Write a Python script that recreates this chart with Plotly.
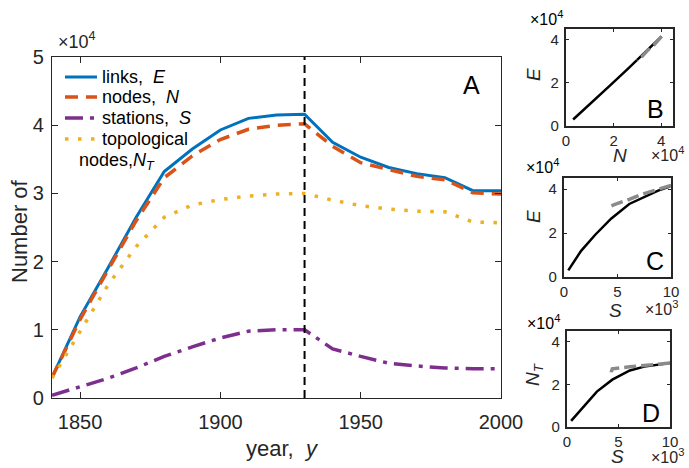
import plotly.graph_objects as go

# ---------------- data ----------------
years = [1840, 1850, 1860, 1870, 1880, 1890, 1900, 1910, 1920, 1930,
         1940, 1950, 1960, 1970, 1980, 1990, 2000]
links_E = [3000, 11900, 19100, 26500, 33200, 36500, 39300, 41000, 41500, 41600,
           37500, 35300, 33800, 32900, 32300, 30400, 30400]
nodes_N = [3000, 11500, 18800, 26000, 32300, 35500, 37900, 39400, 40000, 40200,
           36900, 34500, 33500, 32500, 32000, 30100, 29900]
stations_S = [400, 1600, 2900, 4400, 6100, 7500, 8800, 9800, 10000, 10000,
              7200, 6100, 5100, 4700, 4400, 4300, 4300]
topo_NT = [2900, 9700, 16600, 22200, 26500, 28300, 29100, 29600, 29900, 30000,
           29000, 28200, 27700, 27400, 27300, 25800, 25700]
peak_year = 1930

series_names = ["links,  <i>E</i>", "nodes,  <i>N</i>", "stations,  <i>S</i>", "topological"]
nt_name_line2 = "nodes,<i>N<sub>T</sub></i>"

main_yticks = [0, 10000, 20000, 30000, 40000, 50000]
main_yticktext = ["0", "1", "2", "3", "4", "5"]
main_xticks = [1850, 1900, 1950, 2000]
small_e4_ticks = [0, 20000, 40000]
small_e4_text = ["0", "2", "4"]
small_e3_ticks = [0, 5000, 10000]
small_e3_text = ["0", "5", "10"]

# ---------------- style ----------------
FONT = "Liberation Sans, Arial, Helvetica, sans-serif"
TXT = "#262626"
C_E, C_N, C_S, C_NT = "#0072BD", "#D95319", "#7E2F8E", "#EDB120"
LINE_STYLES = [
    dict(color=C_E, width=3),
    dict(color=C_N, width=3.5, dash="13px,8px"),
    dict(color=C_S, width=3.5, dash="18px,7px,4px,7px"),
    dict(color=C_NT, width=3.5, dash="3.5px,9.5px"),
]
W, H = 689, 468

def px(x):
    return x / W

def py(y):
    return 1 - y / H

k = years.index(peak_year)
grow = slice(0, k + 1)
decl = slice(k, len(years))

fig = go.Figure()

# main panel
for vals, nm, st in zip([links_E, nodes_N, stations_S, topo_NT],
                        series_names[:3] + [series_names[3] + " " + nt_name_line2],
                        LINE_STYLES):
    fig.add_trace(go.Scatter(x=years, y=vals, mode="lines", name=nm, showlegend=False,
                             line=st, xaxis="x", yaxis="y"))

# small panels: growth (black) and decline (gray dashed)
panels = [("x2", "y2", nodes_N, links_E),
          ("x3", "y3", stations_S, links_E),
          ("x4", "y4", stations_S, topo_NT)]
for xa, ya, xs, ys in panels:
    fig.add_trace(go.Scatter(x=xs[grow], y=ys[grow], mode="lines", showlegend=False,
                             line=dict(color="black", width=2.5), xaxis=xa, yaxis=ya))
    fig.add_trace(go.Scatter(x=xs[decl], y=ys[decl], mode="lines", showlegend=False,
                             line=dict(color="#8a8a8a", width=3.5, dash="12px,5px"),
                             xaxis=xa, yaxis=ya))

# vertical dashed line at the peak year
fig.add_shape(type="line", xref="x", yref="y domain", x0=peak_year, x1=peak_year,
              y0=0, y1=1, line=dict(color="black", width=2, dash="8px,5px"))

axis_common = dict(showline=True, linecolor=TXT, mirror="allticks", ticks="inside",
                   showgrid=False, zeroline=False, tickcolor=TXT)

def small_axis(dom, rng, tv, tt, anchor, standoff):
    return dict(domain=dom, range=rng, tickvals=tv, ticktext=tt, linewidth=2.2, ticklen=3,
                tickfont=dict(size=15), anchor=anchor, ticklabelstandoff=standoff,
                **axis_common)

fig.update_layout(
    width=W, height=H, margin=dict(l=0, r=0, t=0, b=0, autoexpand=False),
    paper_bgcolor="white", plot_bgcolor="white", showlegend=False,
    font=dict(family=FONT, color=TXT),
    xaxis=dict(domain=[px(52), px(501)], range=[1840, 2000], tickvals=main_xticks,
               linewidth=1.3, ticklen=6, tickfont=dict(size=20), anchor="y",
               ticklabelstandoff=6, **axis_common),
    yaxis=dict(domain=[py(398), py(57)], range=[0, 50000], tickvals=main_yticks,
               ticktext=main_yticktext, linewidth=1.3, ticklen=6, tickfont=dict(size=20),
               anchor="x", ticklabelstandoff=3, **axis_common),
    xaxis2=small_axis([px(566), px(673)], [0, 45000], small_e4_ticks, small_e4_text, "y2", 0),
    yaxis2=small_axis([py(126), py(29)], [0, 45000], small_e4_ticks, small_e4_text, "x2", 2),
    xaxis3=small_axis([px(564), px(671)], [0, 10000], small_e3_ticks, small_e3_text, "y3", 0),
    yaxis3=small_axis([py(277), py(178)], [0, 45000], small_e4_ticks, small_e4_text, "x3", 2),
    xaxis4=small_axis([px(567), px(670)], [0, 10000], small_e3_ticks, small_e3_text, "y4", 0),
    yaxis4=small_axis([py(427), py(331)], [0, 45000], small_e4_ticks, small_e4_text, "x4", 2),
)

def ann(text, x, y, size, angle=0, xanchor="center", yanchor="middle", color=TXT):
    fig.add_annotation(text=text, x=px(x), y=py(y), xref="paper", yref="paper",
                       showarrow=False, textangle=angle, xanchor=xanchor, yanchor=yanchor,
                       font=dict(size=size, family=FONT, color=color))

# legend (sample lines + labels) in the upper-left of panel A
leg_rows = [77, 97, 118, 139]
for row_y, nm, st in zip(leg_rows, series_names, LINE_STYLES):
    fig.add_shape(type="line", xref="paper", yref="paper", x0=px(65), x1=px(97),
                  y0=py(row_y), y1=py(row_y), line=st)
    ann(nm, 100, row_y, 18, xanchor="left", color="black")
ann(nt_name_line2, 77, 161, 18, xanchor="left", color="black")

# main panel texts
ann("×10<sup>4</sup>", 56, 54, 18, xanchor="left", yanchor="bottom")
ann("Number of", 19, 231, 22, angle=-90)
ann("year,  <i>y</i>", 282, 448, 22)
ann("A", 471, 85, 25, color="black")

# small panel texts
ann("<i>E</i>", 533, 75, 19, angle=-90)
ann("<i>N</i>", 620, 156, 19)
ann("×10<sup>4</sup>", 528, 30, 16, xanchor="left", yanchor="bottom", color="black")
ann("×10<sup>4</sup>", 649, 166, 16, xanchor="left", yanchor="bottom")
ann("B", 655, 109, 25, color="black")

ann("<i>E</i>", 533, 217, 19, angle=-90)
ann("<i>S</i>", 615, 310, 19)
ann("×10<sup>4</sup>", 524, 178, 16, xanchor="left", yanchor="bottom", color="black")
ann("×10<sup>3</sup>", 643, 320, 16, xanchor="left", yanchor="bottom")
ann("C", 655, 261, 25, color="black")

ann("<i>N<sub>T</sub></i>", 534, 375, 19, angle=-90)
ann("<i>S</i>", 617, 456, 19)
ann("×10<sup>4</sup>", 525, 334, 16, xanchor="left", yanchor="bottom", color="black")
ann("×10<sup>3</sup>", 649, 468, 16, xanchor="left", yanchor="bottom")
ann("D", 651, 413, 25, color="black")

fig.write_html(
    "out.html",
    config={"displayModeBar": False},
    post_script="document.body.style.margin='0';document.body.style.overflow='hidden';"
                "document.documentElement.style.overflow='hidden';",
)
